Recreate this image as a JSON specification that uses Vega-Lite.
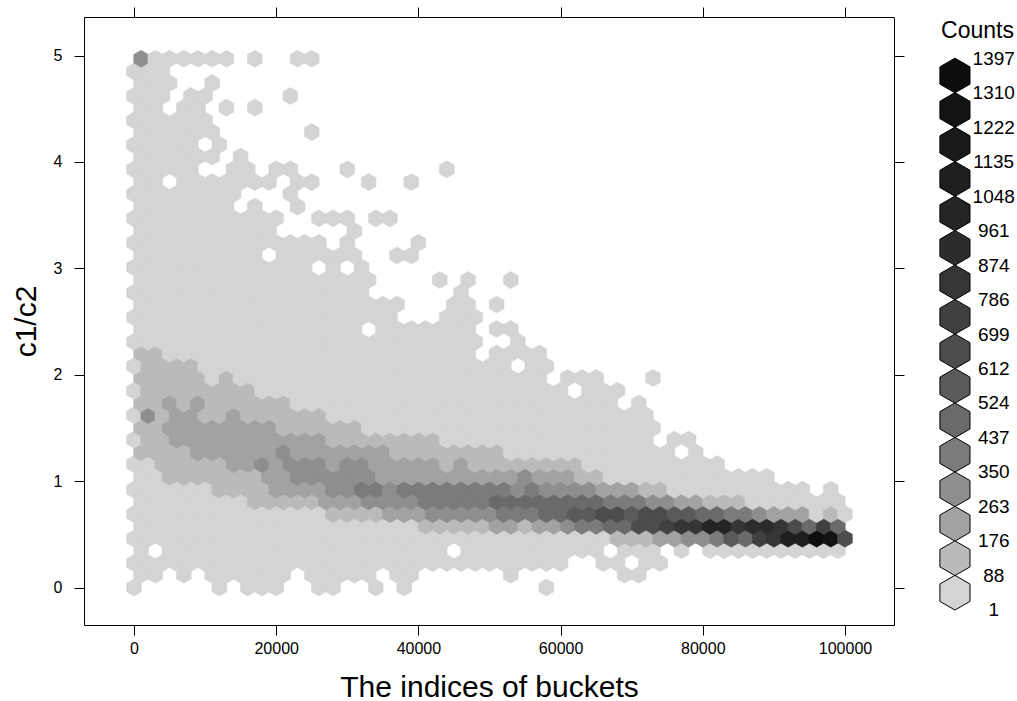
{"$schema":"https://vega.github.io/schema/vega-lite/v6.json","background":"white","padding":{"left":10,"top":6,"right":0,"bottom":0},"spacing":16,"config":{"font":"Liberation Sans"},"hconcat":[{"width":810,"height":608,"view":{"stroke":"black","strokeWidth":1,"fill":"white"},"resolve":{"axis":{"x":"independent","y":"independent"}},"layer":[{"data":{"values":[
{"x":0,"y":0,"n":40},{"x":12000,"y":0,"n":40},{"x":16000,"y":0,"n":40},{"x":18000,"y":0,"n":40},{"x":20000,"y":0,"n":40},{"x":26000,"y":0,"n":40},{"x":28000,"y":0,"n":40},{"x":34000,"y":0,"n":40},{"x":38000,"y":0,"n":40},{"x":58000,"y":0,"n":40},
{"x":1000,"y":0.12,"n":40},{"x":3000,"y":0.12,"n":40},{"x":7000,"y":0.12,"n":40},{"x":11000,"y":0.12,"n":40},{"x":13000,"y":0.12,"n":40},{"x":15000,"y":0.12,"n":40},{"x":17000,"y":0.12,"n":40},{"x":19000,"y":0.12,"n":40},{"x":21000,"y":0.12,"n":40},{"x":25000,"y":0.12,"n":40},{"x":27000,"y":0.12,"n":40},{"x":29000,"y":0.12,"n":40},{"x":31000,"y":0.12,"n":40},{"x":33000,"y":0.12,"n":40},{"x":37000,"y":0.12,"n":40},{"x":39000,"y":0.12,"n":40},{"x":53000,"y":0.12,"n":40},{"x":69000,"y":0.12,"n":40},{"x":71000,"y":0.12,"n":40},
{"x":0,"y":0.23,"n":40},{"x":2000,"y":0.23,"n":40},{"x":4000,"y":0.23,"n":40},{"x":6000,"y":0.23,"n":40},{"x":8000,"y":0.23,"n":40},{"x":10000,"y":0.23,"n":40},{"x":12000,"y":0.23,"n":40},{"x":14000,"y":0.23,"n":40},{"x":16000,"y":0.23,"n":40},{"x":18000,"y":0.23,"n":40},{"x":20000,"y":0.23,"n":40},{"x":22000,"y":0.23,"n":40},{"x":24000,"y":0.23,"n":40},{"x":26000,"y":0.23,"n":40},{"x":28000,"y":0.23,"n":40},{"x":30000,"y":0.23,"n":40},{"x":32000,"y":0.23,"n":40},{"x":34000,"y":0.23,"n":40},{"x":36000,"y":0.23,"n":40},{"x":38000,"y":0.23,"n":40},{"x":40000,"y":0.23,"n":40},{"x":42000,"y":0.23,"n":40},{"x":44000,"y":0.23,"n":40},{"x":46000,"y":0.23,"n":40},{"x":48000,"y":0.23,"n":40},{"x":50000,"y":0.23,"n":40},{"x":52000,"y":0.23,"n":40},{"x":54000,"y":0.23,"n":40},{"x":56000,"y":0.23,"n":40},{"x":58000,"y":0.23,"n":40},{"x":60000,"y":0.23,"n":40},{"x":66000,"y":0.23,"n":40},{"x":68000,"y":0.23,"n":40},{"x":72000,"y":0.23,"n":40},{"x":74000,"y":0.23,"n":40},
{"x":1000,"y":0.35,"n":40},{"x":5000,"y":0.35,"n":40},{"x":7000,"y":0.35,"n":40},{"x":9000,"y":0.35,"n":40},{"x":11000,"y":0.35,"n":40},{"x":13000,"y":0.35,"n":40},{"x":15000,"y":0.35,"n":40},{"x":17000,"y":0.35,"n":40},{"x":19000,"y":0.35,"n":40},{"x":21000,"y":0.35,"n":40},{"x":23000,"y":0.35,"n":40},{"x":25000,"y":0.35,"n":40},{"x":27000,"y":0.35,"n":40},{"x":29000,"y":0.35,"n":40},{"x":31000,"y":0.35,"n":40},{"x":33000,"y":0.35,"n":40},{"x":35000,"y":0.35,"n":40},{"x":37000,"y":0.35,"n":40},{"x":39000,"y":0.35,"n":40},{"x":41000,"y":0.35,"n":40},{"x":43000,"y":0.35,"n":40},{"x":47000,"y":0.35,"n":40},{"x":49000,"y":0.35,"n":40},{"x":51000,"y":0.35,"n":40},{"x":53000,"y":0.35,"n":40},{"x":55000,"y":0.35,"n":40},{"x":57000,"y":0.35,"n":40},{"x":59000,"y":0.35,"n":40},{"x":61000,"y":0.35,"n":40},{"x":63000,"y":0.35,"n":40},{"x":65000,"y":0.35,"n":40},{"x":69000,"y":0.35,"n":40},{"x":71000,"y":0.35,"n":40},{"x":73000,"y":0.35,"n":40},{"x":77000,"y":0.35,"n":40},{"x":81000,"y":0.35,"n":40},{"x":83000,"y":0.35,"n":40},{"x":85000,"y":0.35,"n":40},{"x":87000,"y":0.35,"n":40},{"x":89000,"y":0.35,"n":40},{"x":91000,"y":0.35,"n":40},{"x":93000,"y":0.35,"n":40},{"x":95000,"y":0.35,"n":40},{"x":97000,"y":0.35,"n":40},{"x":99000,"y":0.35,"n":40},
{"x":0,"y":0.46,"n":40},{"x":2000,"y":0.46,"n":40},{"x":4000,"y":0.46,"n":40},{"x":6000,"y":0.46,"n":40},{"x":8000,"y":0.46,"n":40},{"x":10000,"y":0.46,"n":40},{"x":12000,"y":0.46,"n":40},{"x":14000,"y":0.46,"n":40},{"x":16000,"y":0.46,"n":40},{"x":18000,"y":0.46,"n":40},{"x":20000,"y":0.46,"n":40},{"x":22000,"y":0.46,"n":40},{"x":24000,"y":0.46,"n":40},{"x":26000,"y":0.46,"n":40},{"x":28000,"y":0.46,"n":40},{"x":30000,"y":0.46,"n":40},{"x":32000,"y":0.46,"n":40},{"x":34000,"y":0.46,"n":40},{"x":36000,"y":0.46,"n":40},{"x":38000,"y":0.46,"n":40},{"x":40000,"y":0.46,"n":40},{"x":42000,"y":0.46,"n":40},{"x":44000,"y":0.46,"n":40},{"x":46000,"y":0.46,"n":40},{"x":48000,"y":0.46,"n":40},{"x":50000,"y":0.46,"n":40},{"x":52000,"y":0.46,"n":40},{"x":54000,"y":0.46,"n":40},{"x":56000,"y":0.46,"n":40},{"x":58000,"y":0.46,"n":40},{"x":60000,"y":0.46,"n":40},{"x":62000,"y":0.46,"n":40},{"x":64000,"y":0.46,"n":40},{"x":66000,"y":0.46,"n":40},{"x":68000,"y":0.46,"n":130},{"x":70000,"y":0.46,"n":130},{"x":72000,"y":0.46,"n":130},{"x":74000,"y":0.46,"n":220},{"x":76000,"y":0.46,"n":220},{"x":78000,"y":0.46,"n":305},{"x":80000,"y":0.46,"n":305},{"x":82000,"y":0.46,"n":390},{"x":84000,"y":0.46,"n":570},{"x":86000,"y":0.46,"n":480},{"x":88000,"y":0.46,"n":740},{"x":90000,"y":0.46,"n":830},{"x":92000,"y":0.46,"n":1090},{"x":94000,"y":0.46,"n":1090},{"x":96000,"y":0.46,"n":1350},{"x":98000,"y":0.46,"n":1265},{"x":100000,"y":0.46,"n":655},
{"x":1000,"y":0.58,"n":40},{"x":3000,"y":0.58,"n":40},{"x":5000,"y":0.58,"n":40},{"x":7000,"y":0.58,"n":40},{"x":9000,"y":0.58,"n":40},{"x":11000,"y":0.58,"n":40},{"x":13000,"y":0.58,"n":40},{"x":15000,"y":0.58,"n":40},{"x":17000,"y":0.58,"n":40},{"x":19000,"y":0.58,"n":40},{"x":21000,"y":0.58,"n":40},{"x":23000,"y":0.58,"n":40},{"x":25000,"y":0.58,"n":40},{"x":27000,"y":0.58,"n":40},{"x":29000,"y":0.58,"n":40},{"x":31000,"y":0.58,"n":40},{"x":33000,"y":0.58,"n":40},{"x":35000,"y":0.58,"n":40},{"x":37000,"y":0.58,"n":40},{"x":39000,"y":0.58,"n":40},{"x":41000,"y":0.58,"n":130},{"x":43000,"y":0.58,"n":130},{"x":45000,"y":0.58,"n":130},{"x":47000,"y":0.58,"n":130},{"x":49000,"y":0.58,"n":130},{"x":51000,"y":0.58,"n":220},{"x":53000,"y":0.58,"n":220},{"x":55000,"y":0.58,"n":130},{"x":57000,"y":0.58,"n":220},{"x":59000,"y":0.58,"n":220},{"x":61000,"y":0.58,"n":305},{"x":63000,"y":0.58,"n":390},{"x":65000,"y":0.58,"n":390},{"x":67000,"y":0.58,"n":480},{"x":69000,"y":0.58,"n":480},{"x":71000,"y":0.58,"n":655},{"x":73000,"y":0.58,"n":655},{"x":75000,"y":0.58,"n":740},{"x":77000,"y":0.58,"n":830},{"x":79000,"y":0.58,"n":830},{"x":81000,"y":0.58,"n":1000},{"x":83000,"y":0.58,"n":1000},{"x":85000,"y":0.58,"n":830},{"x":87000,"y":0.58,"n":915},{"x":89000,"y":0.58,"n":915},{"x":91000,"y":0.58,"n":830},{"x":93000,"y":0.58,"n":655},{"x":95000,"y":0.58,"n":480},{"x":97000,"y":0.58,"n":740},{"x":99000,"y":0.58,"n":480},
{"x":0,"y":0.69,"n":40},{"x":2000,"y":0.69,"n":40},{"x":4000,"y":0.69,"n":40},{"x":6000,"y":0.69,"n":40},{"x":8000,"y":0.69,"n":40},{"x":10000,"y":0.69,"n":40},{"x":12000,"y":0.69,"n":40},{"x":14000,"y":0.69,"n":40},{"x":16000,"y":0.69,"n":40},{"x":18000,"y":0.69,"n":40},{"x":20000,"y":0.69,"n":40},{"x":22000,"y":0.69,"n":40},{"x":24000,"y":0.69,"n":40},{"x":26000,"y":0.69,"n":40},{"x":28000,"y":0.69,"n":130},{"x":30000,"y":0.69,"n":130},{"x":32000,"y":0.69,"n":130},{"x":34000,"y":0.69,"n":130},{"x":36000,"y":0.69,"n":220},{"x":38000,"y":0.69,"n":220},{"x":40000,"y":0.69,"n":220},{"x":42000,"y":0.69,"n":305},{"x":44000,"y":0.69,"n":305},{"x":46000,"y":0.69,"n":305},{"x":48000,"y":0.69,"n":305},{"x":50000,"y":0.69,"n":305},{"x":52000,"y":0.69,"n":390},{"x":54000,"y":0.69,"n":390},{"x":56000,"y":0.69,"n":390},{"x":58000,"y":0.69,"n":480},{"x":60000,"y":0.69,"n":480},{"x":62000,"y":0.69,"n":570},{"x":64000,"y":0.69,"n":570},{"x":66000,"y":0.69,"n":655},{"x":68000,"y":0.69,"n":655},{"x":70000,"y":0.69,"n":570},{"x":72000,"y":0.69,"n":655},{"x":74000,"y":0.69,"n":655},{"x":76000,"y":0.69,"n":570},{"x":78000,"y":0.69,"n":570},{"x":80000,"y":0.69,"n":480},{"x":82000,"y":0.69,"n":480},{"x":84000,"y":0.69,"n":390},{"x":86000,"y":0.69,"n":390},{"x":88000,"y":0.69,"n":305},{"x":90000,"y":0.69,"n":220},{"x":92000,"y":0.69,"n":220},{"x":94000,"y":0.69,"n":220},{"x":96000,"y":0.69,"n":40},{"x":98000,"y":0.69,"n":130},{"x":100000,"y":0.69,"n":40},
{"x":1000,"y":0.81,"n":40},{"x":3000,"y":0.81,"n":40},{"x":5000,"y":0.81,"n":40},{"x":7000,"y":0.81,"n":40},{"x":9000,"y":0.81,"n":40},{"x":11000,"y":0.81,"n":40},{"x":13000,"y":0.81,"n":40},{"x":15000,"y":0.81,"n":40},{"x":17000,"y":0.81,"n":130},{"x":19000,"y":0.81,"n":130},{"x":21000,"y":0.81,"n":130},{"x":23000,"y":0.81,"n":130},{"x":25000,"y":0.81,"n":130},{"x":27000,"y":0.81,"n":220},{"x":29000,"y":0.81,"n":220},{"x":31000,"y":0.81,"n":220},{"x":33000,"y":0.81,"n":305},{"x":35000,"y":0.81,"n":305},{"x":37000,"y":0.81,"n":305},{"x":39000,"y":0.81,"n":305},{"x":41000,"y":0.81,"n":390},{"x":43000,"y":0.81,"n":390},{"x":45000,"y":0.81,"n":390},{"x":47000,"y":0.81,"n":390},{"x":49000,"y":0.81,"n":390},{"x":51000,"y":0.81,"n":480},{"x":53000,"y":0.81,"n":480},{"x":55000,"y":0.81,"n":480},{"x":57000,"y":0.81,"n":480},{"x":59000,"y":0.81,"n":480},{"x":61000,"y":0.81,"n":480},{"x":63000,"y":0.81,"n":480},{"x":65000,"y":0.81,"n":480},{"x":67000,"y":0.81,"n":390},{"x":69000,"y":0.81,"n":390},{"x":71000,"y":0.81,"n":390},{"x":73000,"y":0.81,"n":305},{"x":75000,"y":0.81,"n":305},{"x":77000,"y":0.81,"n":220},{"x":79000,"y":0.81,"n":220},{"x":81000,"y":0.81,"n":130},{"x":83000,"y":0.81,"n":130},{"x":85000,"y":0.81,"n":130},{"x":87000,"y":0.81,"n":40},{"x":89000,"y":0.81,"n":40},{"x":91000,"y":0.81,"n":40},{"x":93000,"y":0.81,"n":40},{"x":95000,"y":0.81,"n":40},{"x":97000,"y":0.81,"n":40},{"x":99000,"y":0.81,"n":40},
{"x":0,"y":0.92,"n":40},{"x":2000,"y":0.92,"n":40},{"x":4000,"y":0.92,"n":40},{"x":6000,"y":0.92,"n":40},{"x":8000,"y":0.92,"n":40},{"x":10000,"y":0.92,"n":40},{"x":12000,"y":0.92,"n":130},{"x":14000,"y":0.92,"n":130},{"x":16000,"y":0.92,"n":130},{"x":18000,"y":0.92,"n":130},{"x":20000,"y":0.92,"n":220},{"x":22000,"y":0.92,"n":220},{"x":24000,"y":0.92,"n":220},{"x":26000,"y":0.92,"n":220},{"x":28000,"y":0.92,"n":305},{"x":30000,"y":0.92,"n":305},{"x":32000,"y":0.92,"n":390},{"x":34000,"y":0.92,"n":390},{"x":36000,"y":0.92,"n":305},{"x":38000,"y":0.92,"n":390},{"x":40000,"y":0.92,"n":390},{"x":42000,"y":0.92,"n":390},{"x":44000,"y":0.92,"n":390},{"x":46000,"y":0.92,"n":390},{"x":48000,"y":0.92,"n":390},{"x":50000,"y":0.92,"n":390},{"x":52000,"y":0.92,"n":390},{"x":54000,"y":0.92,"n":305},{"x":56000,"y":0.92,"n":390},{"x":58000,"y":0.92,"n":305},{"x":60000,"y":0.92,"n":305},{"x":62000,"y":0.92,"n":305},{"x":64000,"y":0.92,"n":305},{"x":66000,"y":0.92,"n":220},{"x":68000,"y":0.92,"n":220},{"x":70000,"y":0.92,"n":220},{"x":72000,"y":0.92,"n":130},{"x":74000,"y":0.92,"n":130},{"x":76000,"y":0.92,"n":40},{"x":78000,"y":0.92,"n":40},{"x":80000,"y":0.92,"n":40},{"x":82000,"y":0.92,"n":40},{"x":84000,"y":0.92,"n":40},{"x":86000,"y":0.92,"n":40},{"x":88000,"y":0.92,"n":40},{"x":90000,"y":0.92,"n":40},{"x":92000,"y":0.92,"n":40},{"x":94000,"y":0.92,"n":40},{"x":98000,"y":0.92,"n":40},
{"x":1000,"y":1.04,"n":40},{"x":3000,"y":1.04,"n":40},{"x":5000,"y":1.04,"n":130},{"x":7000,"y":1.04,"n":130},{"x":9000,"y":1.04,"n":130},{"x":11000,"y":1.04,"n":130},{"x":13000,"y":1.04,"n":130},{"x":15000,"y":1.04,"n":130},{"x":17000,"y":1.04,"n":130},{"x":19000,"y":1.04,"n":220},{"x":21000,"y":1.04,"n":220},{"x":23000,"y":1.04,"n":305},{"x":25000,"y":1.04,"n":305},{"x":27000,"y":1.04,"n":305},{"x":29000,"y":1.04,"n":305},{"x":31000,"y":1.04,"n":305},{"x":33000,"y":1.04,"n":305},{"x":35000,"y":1.04,"n":220},{"x":37000,"y":1.04,"n":220},{"x":39000,"y":1.04,"n":220},{"x":41000,"y":1.04,"n":220},{"x":43000,"y":1.04,"n":220},{"x":45000,"y":1.04,"n":220},{"x":47000,"y":1.04,"n":220},{"x":49000,"y":1.04,"n":220},{"x":51000,"y":1.04,"n":220},{"x":53000,"y":1.04,"n":220},{"x":55000,"y":1.04,"n":305},{"x":57000,"y":1.04,"n":220},{"x":59000,"y":1.04,"n":220},{"x":61000,"y":1.04,"n":220},{"x":63000,"y":1.04,"n":130},{"x":65000,"y":1.04,"n":130},{"x":67000,"y":1.04,"n":40},{"x":69000,"y":1.04,"n":40},{"x":71000,"y":1.04,"n":40},{"x":73000,"y":1.04,"n":40},{"x":75000,"y":1.04,"n":40},{"x":77000,"y":1.04,"n":40},{"x":79000,"y":1.04,"n":40},{"x":81000,"y":1.04,"n":40},{"x":83000,"y":1.04,"n":40},{"x":85000,"y":1.04,"n":40},{"x":87000,"y":1.04,"n":40},{"x":89000,"y":1.04,"n":40},
{"x":0,"y":1.16,"n":40},{"x":2000,"y":1.16,"n":40},{"x":4000,"y":1.16,"n":130},{"x":6000,"y":1.16,"n":130},{"x":8000,"y":1.16,"n":130},{"x":10000,"y":1.16,"n":130},{"x":12000,"y":1.16,"n":130},{"x":14000,"y":1.16,"n":220},{"x":16000,"y":1.16,"n":220},{"x":18000,"y":1.16,"n":305},{"x":20000,"y":1.16,"n":220},{"x":22000,"y":1.16,"n":305},{"x":24000,"y":1.16,"n":305},{"x":26000,"y":1.16,"n":305},{"x":28000,"y":1.16,"n":220},{"x":30000,"y":1.16,"n":305},{"x":32000,"y":1.16,"n":305},{"x":34000,"y":1.16,"n":220},{"x":36000,"y":1.16,"n":220},{"x":38000,"y":1.16,"n":220},{"x":40000,"y":1.16,"n":220},{"x":42000,"y":1.16,"n":220},{"x":44000,"y":1.16,"n":130},{"x":46000,"y":1.16,"n":220},{"x":48000,"y":1.16,"n":130},{"x":50000,"y":1.16,"n":130},{"x":52000,"y":1.16,"n":130},{"x":54000,"y":1.16,"n":130},{"x":56000,"y":1.16,"n":130},{"x":58000,"y":1.16,"n":130},{"x":60000,"y":1.16,"n":130},{"x":62000,"y":1.16,"n":130},{"x":64000,"y":1.16,"n":40},{"x":66000,"y":1.16,"n":40},{"x":68000,"y":1.16,"n":40},{"x":70000,"y":1.16,"n":40},{"x":72000,"y":1.16,"n":40},{"x":74000,"y":1.16,"n":40},{"x":76000,"y":1.16,"n":40},{"x":78000,"y":1.16,"n":40},{"x":80000,"y":1.16,"n":40},{"x":82000,"y":1.16,"n":40},
{"x":1000,"y":1.27,"n":130},{"x":3000,"y":1.27,"n":130},{"x":5000,"y":1.27,"n":130},{"x":7000,"y":1.27,"n":130},{"x":9000,"y":1.27,"n":220},{"x":11000,"y":1.27,"n":220},{"x":13000,"y":1.27,"n":220},{"x":15000,"y":1.27,"n":220},{"x":17000,"y":1.27,"n":220},{"x":19000,"y":1.27,"n":220},{"x":21000,"y":1.27,"n":305},{"x":23000,"y":1.27,"n":220},{"x":25000,"y":1.27,"n":220},{"x":27000,"y":1.27,"n":220},{"x":29000,"y":1.27,"n":220},{"x":31000,"y":1.27,"n":220},{"x":33000,"y":1.27,"n":220},{"x":35000,"y":1.27,"n":220},{"x":37000,"y":1.27,"n":130},{"x":39000,"y":1.27,"n":130},{"x":41000,"y":1.27,"n":130},{"x":43000,"y":1.27,"n":130},{"x":45000,"y":1.27,"n":130},{"x":47000,"y":1.27,"n":130},{"x":49000,"y":1.27,"n":130},{"x":51000,"y":1.27,"n":130},{"x":53000,"y":1.27,"n":40},{"x":55000,"y":1.27,"n":40},{"x":57000,"y":1.27,"n":40},{"x":59000,"y":1.27,"n":40},{"x":61000,"y":1.27,"n":40},{"x":63000,"y":1.27,"n":40},{"x":65000,"y":1.27,"n":40},{"x":67000,"y":1.27,"n":40},{"x":69000,"y":1.27,"n":40},{"x":71000,"y":1.27,"n":40},{"x":73000,"y":1.27,"n":40},{"x":75000,"y":1.27,"n":40},{"x":79000,"y":1.27,"n":40},
{"x":0,"y":1.39,"n":40},{"x":2000,"y":1.39,"n":130},{"x":4000,"y":1.39,"n":130},{"x":6000,"y":1.39,"n":220},{"x":8000,"y":1.39,"n":220},{"x":10000,"y":1.39,"n":220},{"x":12000,"y":1.39,"n":220},{"x":14000,"y":1.39,"n":220},{"x":16000,"y":1.39,"n":220},{"x":18000,"y":1.39,"n":220},{"x":20000,"y":1.39,"n":220},{"x":22000,"y":1.39,"n":220},{"x":24000,"y":1.39,"n":220},{"x":26000,"y":1.39,"n":220},{"x":28000,"y":1.39,"n":130},{"x":30000,"y":1.39,"n":130},{"x":32000,"y":1.39,"n":130},{"x":34000,"y":1.39,"n":130},{"x":36000,"y":1.39,"n":130},{"x":38000,"y":1.39,"n":130},{"x":40000,"y":1.39,"n":130},{"x":42000,"y":1.39,"n":130},{"x":44000,"y":1.39,"n":40},{"x":46000,"y":1.39,"n":40},{"x":48000,"y":1.39,"n":40},{"x":50000,"y":1.39,"n":40},{"x":52000,"y":1.39,"n":40},{"x":54000,"y":1.39,"n":40},{"x":56000,"y":1.39,"n":40},{"x":58000,"y":1.39,"n":40},{"x":60000,"y":1.39,"n":40},{"x":62000,"y":1.39,"n":40},{"x":64000,"y":1.39,"n":40},{"x":66000,"y":1.39,"n":40},{"x":68000,"y":1.39,"n":40},{"x":70000,"y":1.39,"n":40},{"x":72000,"y":1.39,"n":40},{"x":76000,"y":1.39,"n":40},{"x":78000,"y":1.39,"n":40},
{"x":1000,"y":1.5,"n":130},{"x":3000,"y":1.5,"n":130},{"x":5000,"y":1.5,"n":220},{"x":7000,"y":1.5,"n":220},{"x":9000,"y":1.5,"n":220},{"x":11000,"y":1.5,"n":220},{"x":13000,"y":1.5,"n":220},{"x":15000,"y":1.5,"n":220},{"x":17000,"y":1.5,"n":220},{"x":19000,"y":1.5,"n":220},{"x":21000,"y":1.5,"n":130},{"x":23000,"y":1.5,"n":130},{"x":25000,"y":1.5,"n":130},{"x":27000,"y":1.5,"n":130},{"x":29000,"y":1.5,"n":130},{"x":31000,"y":1.5,"n":130},{"x":33000,"y":1.5,"n":40},{"x":35000,"y":1.5,"n":40},{"x":37000,"y":1.5,"n":40},{"x":39000,"y":1.5,"n":40},{"x":41000,"y":1.5,"n":40},{"x":43000,"y":1.5,"n":40},{"x":45000,"y":1.5,"n":40},{"x":47000,"y":1.5,"n":40},{"x":49000,"y":1.5,"n":40},{"x":51000,"y":1.5,"n":40},{"x":53000,"y":1.5,"n":40},{"x":55000,"y":1.5,"n":40},{"x":57000,"y":1.5,"n":40},{"x":59000,"y":1.5,"n":40},{"x":61000,"y":1.5,"n":40},{"x":63000,"y":1.5,"n":40},{"x":65000,"y":1.5,"n":40},{"x":67000,"y":1.5,"n":40},{"x":69000,"y":1.5,"n":40},{"x":71000,"y":1.5,"n":40},{"x":73000,"y":1.5,"n":40},
{"x":0,"y":1.62,"n":40},{"x":2000,"y":1.62,"n":305},{"x":4000,"y":1.62,"n":130},{"x":6000,"y":1.62,"n":220},{"x":8000,"y":1.62,"n":220},{"x":10000,"y":1.62,"n":130},{"x":12000,"y":1.62,"n":130},{"x":14000,"y":1.62,"n":220},{"x":16000,"y":1.62,"n":130},{"x":18000,"y":1.62,"n":130},{"x":20000,"y":1.62,"n":130},{"x":22000,"y":1.62,"n":130},{"x":24000,"y":1.62,"n":130},{"x":26000,"y":1.62,"n":130},{"x":28000,"y":1.62,"n":40},{"x":30000,"y":1.62,"n":40},{"x":32000,"y":1.62,"n":40},{"x":34000,"y":1.62,"n":40},{"x":36000,"y":1.62,"n":40},{"x":38000,"y":1.62,"n":40},{"x":40000,"y":1.62,"n":40},{"x":42000,"y":1.62,"n":40},{"x":44000,"y":1.62,"n":40},{"x":46000,"y":1.62,"n":40},{"x":48000,"y":1.62,"n":40},{"x":50000,"y":1.62,"n":40},{"x":52000,"y":1.62,"n":40},{"x":54000,"y":1.62,"n":40},{"x":56000,"y":1.62,"n":40},{"x":58000,"y":1.62,"n":40},{"x":60000,"y":1.62,"n":40},{"x":62000,"y":1.62,"n":40},{"x":64000,"y":1.62,"n":40},{"x":66000,"y":1.62,"n":40},{"x":68000,"y":1.62,"n":40},{"x":70000,"y":1.62,"n":40},{"x":72000,"y":1.62,"n":40},
{"x":1000,"y":1.73,"n":130},{"x":3000,"y":1.73,"n":130},{"x":5000,"y":1.73,"n":220},{"x":7000,"y":1.73,"n":130},{"x":9000,"y":1.73,"n":220},{"x":11000,"y":1.73,"n":130},{"x":13000,"y":1.73,"n":130},{"x":15000,"y":1.73,"n":130},{"x":17000,"y":1.73,"n":130},{"x":19000,"y":1.73,"n":130},{"x":21000,"y":1.73,"n":130},{"x":23000,"y":1.73,"n":40},{"x":25000,"y":1.73,"n":40},{"x":27000,"y":1.73,"n":40},{"x":29000,"y":1.73,"n":40},{"x":31000,"y":1.73,"n":40},{"x":33000,"y":1.73,"n":40},{"x":35000,"y":1.73,"n":40},{"x":37000,"y":1.73,"n":40},{"x":39000,"y":1.73,"n":40},{"x":41000,"y":1.73,"n":40},{"x":43000,"y":1.73,"n":40},{"x":45000,"y":1.73,"n":40},{"x":47000,"y":1.73,"n":40},{"x":49000,"y":1.73,"n":40},{"x":51000,"y":1.73,"n":40},{"x":53000,"y":1.73,"n":40},{"x":55000,"y":1.73,"n":40},{"x":57000,"y":1.73,"n":40},{"x":59000,"y":1.73,"n":40},{"x":61000,"y":1.73,"n":40},{"x":63000,"y":1.73,"n":40},{"x":65000,"y":1.73,"n":40},{"x":67000,"y":1.73,"n":40},{"x":71000,"y":1.73,"n":40},
{"x":0,"y":1.85,"n":40},{"x":2000,"y":1.85,"n":130},{"x":4000,"y":1.85,"n":130},{"x":6000,"y":1.85,"n":130},{"x":8000,"y":1.85,"n":130},{"x":10000,"y":1.85,"n":130},{"x":12000,"y":1.85,"n":130},{"x":14000,"y":1.85,"n":130},{"x":16000,"y":1.85,"n":130},{"x":18000,"y":1.85,"n":40},{"x":20000,"y":1.85,"n":40},{"x":22000,"y":1.85,"n":40},{"x":24000,"y":1.85,"n":40},{"x":26000,"y":1.85,"n":40},{"x":28000,"y":1.85,"n":40},{"x":30000,"y":1.85,"n":40},{"x":32000,"y":1.85,"n":40},{"x":34000,"y":1.85,"n":40},{"x":36000,"y":1.85,"n":40},{"x":38000,"y":1.85,"n":40},{"x":40000,"y":1.85,"n":40},{"x":42000,"y":1.85,"n":40},{"x":44000,"y":1.85,"n":40},{"x":46000,"y":1.85,"n":40},{"x":48000,"y":1.85,"n":40},{"x":50000,"y":1.85,"n":40},{"x":52000,"y":1.85,"n":40},{"x":54000,"y":1.85,"n":40},{"x":56000,"y":1.85,"n":40},{"x":58000,"y":1.85,"n":40},{"x":60000,"y":1.85,"n":40},{"x":64000,"y":1.85,"n":40},{"x":66000,"y":1.85,"n":40},{"x":68000,"y":1.85,"n":40},
{"x":1000,"y":1.97,"n":130},{"x":3000,"y":1.97,"n":130},{"x":5000,"y":1.97,"n":130},{"x":7000,"y":1.97,"n":130},{"x":9000,"y":1.97,"n":130},{"x":11000,"y":1.97,"n":40},{"x":13000,"y":1.97,"n":130},{"x":15000,"y":1.97,"n":40},{"x":17000,"y":1.97,"n":40},{"x":19000,"y":1.97,"n":40},{"x":21000,"y":1.97,"n":40},{"x":23000,"y":1.97,"n":40},{"x":25000,"y":1.97,"n":40},{"x":27000,"y":1.97,"n":40},{"x":29000,"y":1.97,"n":40},{"x":31000,"y":1.97,"n":40},{"x":33000,"y":1.97,"n":40},{"x":35000,"y":1.97,"n":40},{"x":37000,"y":1.97,"n":40},{"x":39000,"y":1.97,"n":40},{"x":41000,"y":1.97,"n":40},{"x":43000,"y":1.97,"n":40},{"x":45000,"y":1.97,"n":40},{"x":47000,"y":1.97,"n":40},{"x":49000,"y":1.97,"n":40},{"x":51000,"y":1.97,"n":40},{"x":53000,"y":1.97,"n":40},{"x":55000,"y":1.97,"n":40},{"x":57000,"y":1.97,"n":40},{"x":61000,"y":1.97,"n":40},{"x":63000,"y":1.97,"n":40},{"x":65000,"y":1.97,"n":40},{"x":73000,"y":1.97,"n":40},
{"x":0,"y":2.08,"n":40},{"x":2000,"y":2.08,"n":130},{"x":4000,"y":2.08,"n":130},{"x":6000,"y":2.08,"n":130},{"x":8000,"y":2.08,"n":130},{"x":10000,"y":2.08,"n":40},{"x":12000,"y":2.08,"n":40},{"x":14000,"y":2.08,"n":40},{"x":16000,"y":2.08,"n":40},{"x":18000,"y":2.08,"n":40},{"x":20000,"y":2.08,"n":40},{"x":22000,"y":2.08,"n":40},{"x":24000,"y":2.08,"n":40},{"x":26000,"y":2.08,"n":40},{"x":28000,"y":2.08,"n":40},{"x":30000,"y":2.08,"n":40},{"x":32000,"y":2.08,"n":40},{"x":34000,"y":2.08,"n":40},{"x":36000,"y":2.08,"n":40},{"x":38000,"y":2.08,"n":40},{"x":40000,"y":2.08,"n":40},{"x":42000,"y":2.08,"n":40},{"x":44000,"y":2.08,"n":40},{"x":46000,"y":2.08,"n":40},{"x":48000,"y":2.08,"n":40},{"x":50000,"y":2.08,"n":40},{"x":52000,"y":2.08,"n":40},{"x":56000,"y":2.08,"n":40},{"x":58000,"y":2.08,"n":40},
{"x":1000,"y":2.2,"n":130},{"x":3000,"y":2.2,"n":130},{"x":5000,"y":2.2,"n":40},{"x":7000,"y":2.2,"n":40},{"x":9000,"y":2.2,"n":40},{"x":11000,"y":2.2,"n":40},{"x":13000,"y":2.2,"n":40},{"x":15000,"y":2.2,"n":40},{"x":17000,"y":2.2,"n":40},{"x":19000,"y":2.2,"n":40},{"x":21000,"y":2.2,"n":40},{"x":23000,"y":2.2,"n":40},{"x":25000,"y":2.2,"n":40},{"x":27000,"y":2.2,"n":40},{"x":29000,"y":2.2,"n":40},{"x":31000,"y":2.2,"n":40},{"x":33000,"y":2.2,"n":40},{"x":35000,"y":2.2,"n":40},{"x":37000,"y":2.2,"n":40},{"x":39000,"y":2.2,"n":40},{"x":41000,"y":2.2,"n":40},{"x":43000,"y":2.2,"n":40},{"x":45000,"y":2.2,"n":40},{"x":47000,"y":2.2,"n":40},{"x":51000,"y":2.2,"n":40},{"x":53000,"y":2.2,"n":40},{"x":55000,"y":2.2,"n":40},{"x":57000,"y":2.2,"n":40},
{"x":0,"y":2.31,"n":40},{"x":2000,"y":2.31,"n":40},{"x":4000,"y":2.31,"n":40},{"x":6000,"y":2.31,"n":40},{"x":8000,"y":2.31,"n":40},{"x":10000,"y":2.31,"n":40},{"x":12000,"y":2.31,"n":40},{"x":14000,"y":2.31,"n":40},{"x":16000,"y":2.31,"n":40},{"x":18000,"y":2.31,"n":40},{"x":20000,"y":2.31,"n":40},{"x":22000,"y":2.31,"n":40},{"x":24000,"y":2.31,"n":40},{"x":26000,"y":2.31,"n":40},{"x":28000,"y":2.31,"n":40},{"x":30000,"y":2.31,"n":40},{"x":32000,"y":2.31,"n":40},{"x":34000,"y":2.31,"n":40},{"x":36000,"y":2.31,"n":40},{"x":38000,"y":2.31,"n":40},{"x":40000,"y":2.31,"n":40},{"x":42000,"y":2.31,"n":40},{"x":44000,"y":2.31,"n":40},{"x":46000,"y":2.31,"n":40},{"x":48000,"y":2.31,"n":40},{"x":54000,"y":2.31,"n":40},
{"x":1000,"y":2.43,"n":40},{"x":3000,"y":2.43,"n":40},{"x":5000,"y":2.43,"n":40},{"x":7000,"y":2.43,"n":40},{"x":9000,"y":2.43,"n":40},{"x":11000,"y":2.43,"n":40},{"x":13000,"y":2.43,"n":40},{"x":15000,"y":2.43,"n":40},{"x":17000,"y":2.43,"n":40},{"x":19000,"y":2.43,"n":40},{"x":21000,"y":2.43,"n":40},{"x":23000,"y":2.43,"n":40},{"x":25000,"y":2.43,"n":40},{"x":27000,"y":2.43,"n":40},{"x":29000,"y":2.43,"n":40},{"x":31000,"y":2.43,"n":40},{"x":35000,"y":2.43,"n":40},{"x":37000,"y":2.43,"n":40},{"x":39000,"y":2.43,"n":40},{"x":41000,"y":2.43,"n":40},{"x":43000,"y":2.43,"n":40},{"x":45000,"y":2.43,"n":40},{"x":47000,"y":2.43,"n":40},{"x":51000,"y":2.43,"n":40},{"x":53000,"y":2.43,"n":40},
{"x":0,"y":2.54,"n":40},{"x":2000,"y":2.54,"n":40},{"x":4000,"y":2.54,"n":40},{"x":6000,"y":2.54,"n":40},{"x":8000,"y":2.54,"n":40},{"x":10000,"y":2.54,"n":40},{"x":12000,"y":2.54,"n":40},{"x":14000,"y":2.54,"n":40},{"x":16000,"y":2.54,"n":40},{"x":18000,"y":2.54,"n":40},{"x":20000,"y":2.54,"n":40},{"x":22000,"y":2.54,"n":40},{"x":24000,"y":2.54,"n":40},{"x":26000,"y":2.54,"n":40},{"x":28000,"y":2.54,"n":40},{"x":30000,"y":2.54,"n":40},{"x":32000,"y":2.54,"n":40},{"x":34000,"y":2.54,"n":40},{"x":36000,"y":2.54,"n":40},{"x":44000,"y":2.54,"n":40},{"x":46000,"y":2.54,"n":40},{"x":48000,"y":2.54,"n":40},
{"x":1000,"y":2.66,"n":40},{"x":3000,"y":2.66,"n":40},{"x":5000,"y":2.66,"n":40},{"x":7000,"y":2.66,"n":40},{"x":9000,"y":2.66,"n":40},{"x":11000,"y":2.66,"n":40},{"x":13000,"y":2.66,"n":40},{"x":15000,"y":2.66,"n":40},{"x":17000,"y":2.66,"n":40},{"x":19000,"y":2.66,"n":40},{"x":21000,"y":2.66,"n":40},{"x":23000,"y":2.66,"n":40},{"x":25000,"y":2.66,"n":40},{"x":27000,"y":2.66,"n":40},{"x":29000,"y":2.66,"n":40},{"x":31000,"y":2.66,"n":40},{"x":33000,"y":2.66,"n":40},{"x":35000,"y":2.66,"n":40},{"x":37000,"y":2.66,"n":40},{"x":45000,"y":2.66,"n":40},{"x":47000,"y":2.66,"n":40},{"x":51000,"y":2.66,"n":40},
{"x":0,"y":2.77,"n":40},{"x":2000,"y":2.77,"n":40},{"x":4000,"y":2.77,"n":40},{"x":6000,"y":2.77,"n":40},{"x":8000,"y":2.77,"n":40},{"x":10000,"y":2.77,"n":40},{"x":12000,"y":2.77,"n":40},{"x":14000,"y":2.77,"n":40},{"x":16000,"y":2.77,"n":40},{"x":18000,"y":2.77,"n":40},{"x":20000,"y":2.77,"n":40},{"x":22000,"y":2.77,"n":40},{"x":24000,"y":2.77,"n":40},{"x":26000,"y":2.77,"n":40},{"x":28000,"y":2.77,"n":40},{"x":30000,"y":2.77,"n":40},{"x":32000,"y":2.77,"n":40},{"x":46000,"y":2.77,"n":40},
{"x":1000,"y":2.89,"n":40},{"x":3000,"y":2.89,"n":40},{"x":5000,"y":2.89,"n":40},{"x":7000,"y":2.89,"n":40},{"x":9000,"y":2.89,"n":40},{"x":11000,"y":2.89,"n":40},{"x":13000,"y":2.89,"n":40},{"x":15000,"y":2.89,"n":40},{"x":17000,"y":2.89,"n":40},{"x":19000,"y":2.89,"n":40},{"x":21000,"y":2.89,"n":40},{"x":23000,"y":2.89,"n":40},{"x":25000,"y":2.89,"n":40},{"x":27000,"y":2.89,"n":40},{"x":29000,"y":2.89,"n":40},{"x":31000,"y":2.89,"n":40},{"x":33000,"y":2.89,"n":40},{"x":43000,"y":2.89,"n":40},{"x":47000,"y":2.89,"n":40},{"x":53000,"y":2.89,"n":40},
{"x":0,"y":3.01,"n":40},{"x":2000,"y":3.01,"n":40},{"x":4000,"y":3.01,"n":40},{"x":6000,"y":3.01,"n":40},{"x":8000,"y":3.01,"n":40},{"x":10000,"y":3.01,"n":40},{"x":12000,"y":3.01,"n":40},{"x":14000,"y":3.01,"n":40},{"x":16000,"y":3.01,"n":40},{"x":18000,"y":3.01,"n":40},{"x":20000,"y":3.01,"n":40},{"x":22000,"y":3.01,"n":40},{"x":24000,"y":3.01,"n":40},{"x":28000,"y":3.01,"n":40},{"x":32000,"y":3.01,"n":40},
{"x":1000,"y":3.12,"n":40},{"x":3000,"y":3.12,"n":40},{"x":5000,"y":3.12,"n":40},{"x":7000,"y":3.12,"n":40},{"x":9000,"y":3.12,"n":40},{"x":11000,"y":3.12,"n":40},{"x":13000,"y":3.12,"n":40},{"x":15000,"y":3.12,"n":40},{"x":17000,"y":3.12,"n":40},{"x":21000,"y":3.12,"n":40},{"x":23000,"y":3.12,"n":40},{"x":25000,"y":3.12,"n":40},{"x":27000,"y":3.12,"n":40},{"x":29000,"y":3.12,"n":40},{"x":31000,"y":3.12,"n":40},{"x":37000,"y":3.12,"n":40},{"x":39000,"y":3.12,"n":40},
{"x":0,"y":3.24,"n":40},{"x":2000,"y":3.24,"n":40},{"x":4000,"y":3.24,"n":40},{"x":6000,"y":3.24,"n":40},{"x":8000,"y":3.24,"n":40},{"x":10000,"y":3.24,"n":40},{"x":12000,"y":3.24,"n":40},{"x":14000,"y":3.24,"n":40},{"x":16000,"y":3.24,"n":40},{"x":18000,"y":3.24,"n":40},{"x":20000,"y":3.24,"n":40},{"x":22000,"y":3.24,"n":40},{"x":24000,"y":3.24,"n":40},{"x":26000,"y":3.24,"n":40},{"x":30000,"y":3.24,"n":40},{"x":40000,"y":3.24,"n":40},
{"x":1000,"y":3.35,"n":40},{"x":3000,"y":3.35,"n":40},{"x":5000,"y":3.35,"n":40},{"x":7000,"y":3.35,"n":40},{"x":9000,"y":3.35,"n":40},{"x":11000,"y":3.35,"n":40},{"x":13000,"y":3.35,"n":40},{"x":15000,"y":3.35,"n":40},{"x":17000,"y":3.35,"n":40},{"x":19000,"y":3.35,"n":40},{"x":31000,"y":3.35,"n":40},
{"x":0,"y":3.47,"n":40},{"x":2000,"y":3.47,"n":40},{"x":4000,"y":3.47,"n":40},{"x":6000,"y":3.47,"n":40},{"x":8000,"y":3.47,"n":40},{"x":10000,"y":3.47,"n":40},{"x":12000,"y":3.47,"n":40},{"x":14000,"y":3.47,"n":40},{"x":16000,"y":3.47,"n":40},{"x":18000,"y":3.47,"n":40},{"x":20000,"y":3.47,"n":40},{"x":26000,"y":3.47,"n":40},{"x":28000,"y":3.47,"n":40},{"x":30000,"y":3.47,"n":40},{"x":34000,"y":3.47,"n":40},{"x":36000,"y":3.47,"n":40},
{"x":1000,"y":3.58,"n":40},{"x":3000,"y":3.58,"n":40},{"x":5000,"y":3.58,"n":40},{"x":7000,"y":3.58,"n":40},{"x":9000,"y":3.58,"n":40},{"x":11000,"y":3.58,"n":40},{"x":13000,"y":3.58,"n":40},{"x":17000,"y":3.58,"n":40},{"x":23000,"y":3.58,"n":40},
{"x":0,"y":3.7,"n":40},{"x":2000,"y":3.7,"n":40},{"x":4000,"y":3.7,"n":40},{"x":6000,"y":3.7,"n":40},{"x":8000,"y":3.7,"n":40},{"x":10000,"y":3.7,"n":40},{"x":12000,"y":3.7,"n":40},{"x":14000,"y":3.7,"n":40},{"x":22000,"y":3.7,"n":40},
{"x":1000,"y":3.81,"n":40},{"x":3000,"y":3.81,"n":40},{"x":7000,"y":3.81,"n":40},{"x":9000,"y":3.81,"n":40},{"x":11000,"y":3.81,"n":40},{"x":13000,"y":3.81,"n":40},{"x":15000,"y":3.81,"n":40},{"x":17000,"y":3.81,"n":40},{"x":19000,"y":3.81,"n":40},{"x":23000,"y":3.81,"n":40},{"x":25000,"y":3.81,"n":40},{"x":33000,"y":3.81,"n":40},{"x":39000,"y":3.81,"n":40},
{"x":0,"y":3.93,"n":40},{"x":2000,"y":3.93,"n":40},{"x":4000,"y":3.93,"n":40},{"x":6000,"y":3.93,"n":40},{"x":8000,"y":3.93,"n":40},{"x":14000,"y":3.93,"n":40},{"x":16000,"y":3.93,"n":40},{"x":20000,"y":3.93,"n":40},{"x":22000,"y":3.93,"n":40},{"x":30000,"y":3.93,"n":40},{"x":44000,"y":3.93,"n":40},
{"x":1000,"y":4.05,"n":40},{"x":3000,"y":4.05,"n":40},{"x":5000,"y":4.05,"n":40},{"x":7000,"y":4.05,"n":40},{"x":9000,"y":4.05,"n":40},{"x":11000,"y":4.05,"n":40},{"x":15000,"y":4.05,"n":40},
{"x":0,"y":4.16,"n":40},{"x":2000,"y":4.16,"n":40},{"x":4000,"y":4.16,"n":40},{"x":6000,"y":4.16,"n":40},{"x":8000,"y":4.16,"n":40},{"x":12000,"y":4.16,"n":40},
{"x":1000,"y":4.28,"n":40},{"x":3000,"y":4.28,"n":40},{"x":5000,"y":4.28,"n":40},{"x":7000,"y":4.28,"n":40},{"x":9000,"y":4.28,"n":40},{"x":11000,"y":4.28,"n":40},{"x":25000,"y":4.28,"n":40},
{"x":0,"y":4.39,"n":40},{"x":2000,"y":4.39,"n":40},{"x":4000,"y":4.39,"n":40},{"x":6000,"y":4.39,"n":40},{"x":8000,"y":4.39,"n":40},{"x":10000,"y":4.39,"n":40},
{"x":1000,"y":4.51,"n":40},{"x":3000,"y":4.51,"n":40},{"x":7000,"y":4.51,"n":40},{"x":9000,"y":4.51,"n":40},{"x":13000,"y":4.51,"n":40},{"x":17000,"y":4.51,"n":40},
{"x":0,"y":4.62,"n":40},{"x":2000,"y":4.62,"n":40},{"x":4000,"y":4.62,"n":40},{"x":8000,"y":4.62,"n":40},{"x":10000,"y":4.62,"n":40},{"x":22000,"y":4.62,"n":40},
{"x":1000,"y":4.74,"n":40},{"x":3000,"y":4.74,"n":40},{"x":5000,"y":4.74,"n":40},{"x":11000,"y":4.74,"n":40},
{"x":0,"y":4.85,"n":40},{"x":2000,"y":4.85,"n":40},{"x":4000,"y":4.85,"n":40},
{"x":1000,"y":4.97,"n":305},{"x":3000,"y":4.97,"n":40},{"x":5000,"y":4.97,"n":40},{"x":7000,"y":4.97,"n":40},{"x":9000,"y":4.97,"n":40},{"x":11000,"y":4.97,"n":40},{"x":13000,"y":4.97,"n":40},{"x":17000,"y":4.97,"n":40},{"x":23000,"y":4.97,"n":40},{"x":25000,"y":4.97,"n":40}
]},"mark":{"type":"point","filled":true,"opacity":1,"shape":"M0,-1.155L1,-0.577L1,0.577L0,1.155L-1,0.577L-1,-0.577Z","size":220,"strokeWidth":0.5},"encoding":{"x":{"field":"x","type":"quantitative","scale":{"domain":[-7032,106892],"nice":false,"zero":false},"axis":{"orient":"bottom","values":[0,20000,40000,60000,80000,100000],"grid":false,"domain":false,"tickColor":"black","tickSize":10,"labelColor":"black","labelFont":"Liberation Sans","labelFontSize":16,"labelPadding":5,"labelFlush":false,"labelOverlap":false,"format":"d","title":"The indices of buckets","titleFont":"Liberation Sans","titleFontSize":30,"titleFontWeight":"normal","titleColor":"black","titlePadding":16}},"y":{"field":"y","type":"quantitative","scale":{"domain":[-0.352,5.362],"nice":false,"zero":false},"axis":{"orient":"left","values":[0,1,2,3,4,5],"grid":false,"domain":false,"tickColor":"black","tickSize":10,"labelColor":"black","labelFont":"Liberation Sans","labelFontSize":16,"labelPadding":12,"labelFlush":false,"labelOverlap":false,"format":"d","title":"c1/c2","titleFont":"Liberation Sans","titleFontSize":30,"titleFontWeight":"normal","titleColor":"black","titlePadding":12}},"fill":{"field":"n","type":"quantitative","legend":null,"scale":{"type":"threshold","domain":[88,176,263,350,437,524,612,699,786,874,961,1048,1135,1222,1310],"range":["#D4D4D4","#BABABA","#A2A2A2","#8E8E8E","#7B7B7B","#6A6A6A","#5A5A5A","#4C4C4C","#404040","#353535","#2C2C2C","#242424","#1E1E1E","#191919","#131313","#0D0D0D"]}},"stroke":{"field":"n","type":"quantitative","legend":null,"scale":{"type":"threshold","domain":[88,176,263,350,437,524,612,699,786,874,961,1048,1135,1222,1310],"range":["#D4D4D4","#BABABA","#A2A2A2","#8E8E8E","#7B7B7B","#6A6A6A","#5A5A5A","#4C4C4C","#404040","#353535","#2C2C2C","#242424","#1E1E1E","#191919","#131313","#0D0D0D"]}}}},{"data":{"values":[{"x":0,"y":0}]},"mark":{"type":"point","opacity":0},"encoding":{"x":{"field":"x","type":"quantitative","scale":{"domain":[-7032,106892],"nice":false,"zero":false},"axis":{"orient":"top","values":[0,20000,40000,60000,80000,100000],"grid":false,"domain":false,"labels":false,"tickColor":"black","tickSize":10,"title":null}},"y":{"field":"y","type":"quantitative","scale":{"domain":[-0.352,5.362],"nice":false,"zero":false},"axis":{"orient":"right","values":[0,1,2,3,4,5],"grid":false,"domain":false,"labels":false,"tickColor":"black","tickSize":10,"title":null}}}}]},{"width":97,"height":608,"view":{"stroke":null},"title":{"text":"Counts","anchor":"middle","fontSize":23,"fontWeight":"normal","font":"Liberation Sans","color":"black","offset":-26,"dx":8},"resolve":{"scale":{"y":"independent"}},"layer":[{"data":{"values":[{"n":1350},{"n":1265},{"n":1180},{"n":1090},{"n":1000},{"n":915},{"n":830},{"n":740},{"n":655},{"n":570},{"n":480},{"n":390},{"n":305},{"n":220},{"n":130},{"n":40}]},"mark":{"type":"point","filled":true,"opacity":1,"shape":"M0,-1.155L1,-0.577L1,0.577L0,1.155L-1,0.577L-1,-0.577Z","size":905,"stroke":"black","strokeWidth":1},"encoding":{"x":{"datum":0.35,"type":"quantitative","scale":{"domain":[0,1]},"axis":null},"y":{"field":"n","type":"ordinal","sort":"descending","axis":null,"scale":{"type":"point","padding":0,"range":[58.5,575.7]}},"fill":{"field":"n","type":"quantitative","legend":null,"scale":{"type":"threshold","domain":[88,176,263,350,437,524,612,699,786,874,961,1048,1135,1222,1310],"range":["#D4D4D4","#BABABA","#A2A2A2","#8E8E8E","#7B7B7B","#6A6A6A","#5A5A5A","#4C4C4C","#404040","#353535","#2C2C2C","#242424","#1E1E1E","#191919","#131313","#0D0D0D"]}}}},{"data":{"values":[{"c":1397},{"c":1310},{"c":1222},{"c":1135},{"c":1048},{"c":961},{"c":874},{"c":786},{"c":699},{"c":612},{"c":524},{"c":437},{"c":350},{"c":263},{"c":176},{"c":88},{"c":1}]},"mark":{"type":"text","font":"Liberation Sans","fontSize":19,"color":"black","align":"center","baseline":"middle"},"encoding":{"x":{"datum":0.75,"type":"quantitative","scale":{"domain":[0,1]},"axis":null},"y":{"field":"c","type":"ordinal","sort":"descending","axis":null,"scale":{"type":"point","padding":0,"range":[42,593]}},"text":{"field":"c","type":"quantitative","format":"d"}}}]}]}
